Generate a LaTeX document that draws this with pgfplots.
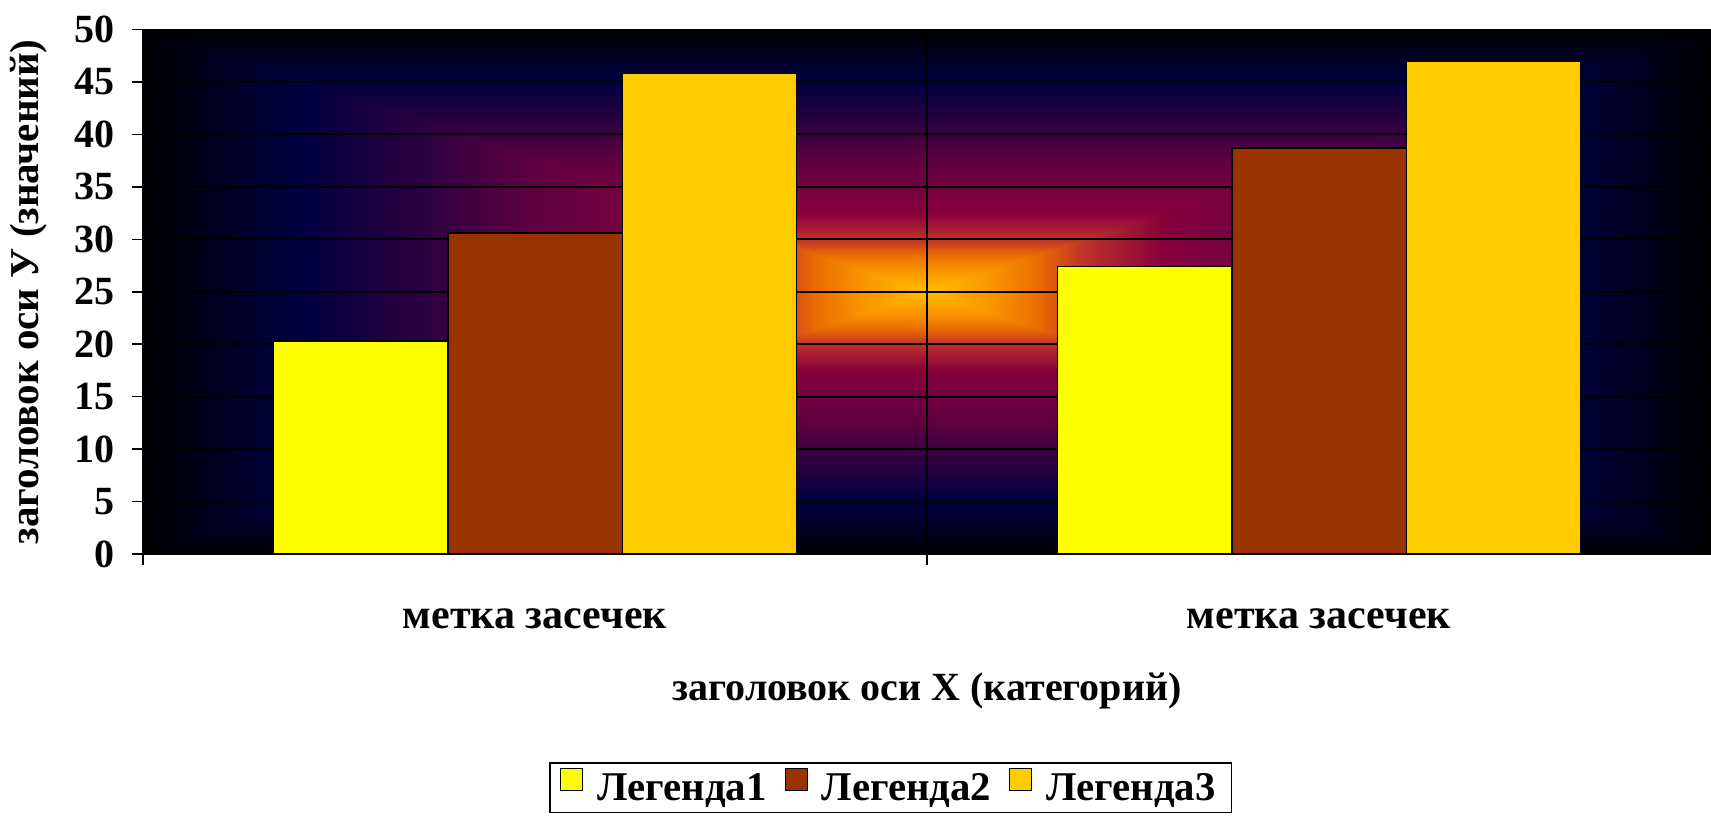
\documentclass[border=0pt]{standalone}
\usepackage{fontspec}
\setmainfont{Liberation Serif}
\usepackage{pgfplots}
\pgfplotsset{compat=1.18}

\definecolor{serA}{RGB}{255,255,0}
\definecolor{serB}{RGB}{153,51,0}
\definecolor{serC}{RGB}{255,204,0}
\definecolor{g0}{RGB}{255,190,0}
\definecolor{g1}{RGB}{250,150,0}
\definecolor{g2}{RGB}{235,110,0}
\definecolor{g3}{RGB}{190,50,40}
\definecolor{g4}{RGB}{135,0,60}
\definecolor{g5}{RGB}{95,0,64}
\definecolor{g6}{RGB}{45,0,64}
\definecolor{g7}{RGB}{0,0,64}
\definecolor{g8}{RGB}{0,0,32}

% t = 0 (centre) at 25bp, t = 1 (edge) at 75bp
\pgfdeclareverticalshading{bgshade}{100bp}{color(0bp)=(g0); color(25bp)=(g0);
  color(29bp)=(g1); color(32bp)=(g2); color(35bp)=(g3); color(40bp)=(g4);
  color(50bp)=(g5); color(57bp)=(g6); color(65bp)=(g7); color(70.5bp)=(g8);
  color(75bp)=(black); color(100bp)=(black)}

\pgfplotstableread{
x  a     b     c
0  20.3  30.6  45.8
1  27.4  38.7  47.0
}\bars

\begin{document}
\begin{tikzpicture}
\path[use as bounding box, fill=white] (0,0) rectangle (855.5pt,408pt);

% plot area background: rectangular gradient from the centre
\shade[shading=bgshade, shading angle=90]  (71.5pt,131pt) rectangle (463.5pt,393.25pt);
\shade[shading=bgshade, shading angle=270] (463.5pt,131pt) rectangle (855.5pt,393.25pt);
\shade[shading=bgshade, shading angle=0]   (71.5pt,393.25pt) -- (855.5pt,393.25pt) -- (463.5pt,262.125pt) -- cycle;
\shade[shading=bgshade, shading angle=180] (71.5pt,131pt) -- (855.5pt,131pt) -- (463.5pt,262.125pt) -- cycle;

\begin{axis}[
    at={(71.5pt,131pt)}, anchor=south west,
    scale only axis, width=784pt, height=262.25pt,
    xmin=-0.5, xmax=1.5, ymin=0, ymax=50,
    ybar, bar width=0.2222,
    axis x line=bottom, axis y line=left,
    axis line style={-, line width=0.8pt, black},
    tick align=outside, major tick length=5.5pt,
    tick style={black, line width=0.8pt},
    ytick={0,5,...,50},
    xtick={-0.5,0.5}, xticklabels={},
    extra x ticks={0,1},
    extra x tick labels={метка засечек,метка засечек},
    extra x tick style={grid=none, major tick length=0pt},
    xmajorgrids, ymajorgrids,
    major grid style={black, line width=1pt},
    /pgf/number format/assume math mode=true,
    yticklabel style={font=\bfseries\fontsize{20}{22}\selectfont, xshift=-5pt},
    xticklabel style={font=\bfseries\fontsize{21}{24}\selectfont, anchor=base, yshift=-37pt},
    xlabel={заголовок оси X (категорий)},
    ylabel={заголовок оси У (значений)},
    every axis x label/.style={at={(rel axis cs:0.5,-0.2784)}, anchor=base,
        font=\bfseries\fontsize{20}{24}\selectfont},
    every axis y label/.style={at={(rel axis cs:-0.0668,0.5)}, anchor=base, rotate=90,
        font=\bfseries\fontsize{20.5}{24}\selectfont},
    legend columns=3,
    legend cell align=left,
    legend image code/.code={\draw[#1, line width=0.6pt] (0pt,-1pt) rectangle (11pt,10pt);},
    legend style={at={(0.477,-0.3966)}, anchor=north, draw=black, line width=0.8pt,
        font=\bfseries\fontsize{20.4}{24}\selectfont, inner xsep=5pt, inner ysep=2.5pt,
        nodes={inner xsep=3pt},
        /tikz/every odd column/.append style={column sep=4pt},
        /tikz/every even column/.append style={column sep=6pt}},
]
\addplot[fill=serA, draw=black, line width=0.6pt, bar shift=-0.2222] table[x=x, y=a] {\bars};
\addplot[fill=serB, draw=black, line width=0.6pt, bar shift=0] table[x=x, y=b] {\bars};
\addplot[fill=serC, draw=black, line width=0.6pt, bar shift=0.2222] table[x=x, y=c] {\bars};
\legend{Легенда1,Легенда2,Легенда3}
\end{axis}
\end{tikzpicture}
\end{document}
